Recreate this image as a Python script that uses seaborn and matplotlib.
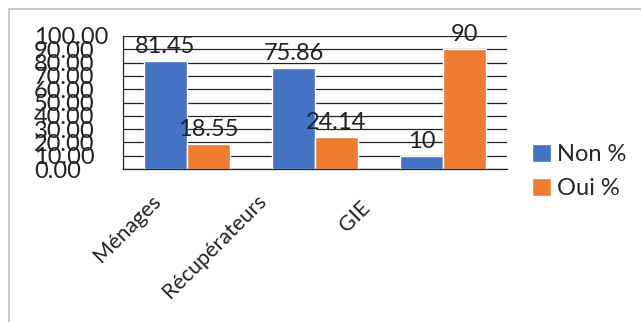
import pandas as pd
import matplotlib
matplotlib.use("Agg")
import matplotlib.pyplot as plt
import matplotlib.transforms as mtransforms
from matplotlib.patches import Patch
from matplotlib.lines import Line2D
import seaborn as sns

# données
categories = ["Ménages", "Récupérateurs", "GIE"]
non_pct = [81.45, 75.86, 10]
oui_pct = [18.55, 24.14, 90]
non_labels = ["81.45", "75.86", "10"]
oui_labels = ["18.55", "24.14", "90"]
series = ["Non %", "Oui %"]
y_ticks = [0, 10, 20, 30, 40, 50, 60, 70, 80, 90, 100]

df = pd.DataFrame({
    "Catégorie": categories * 2,
    "Série": [series[0]] * 3 + [series[1]] * 3,
    "Valeur": non_pct + oui_pct,
})

sns.set_style("white")
plt.rcParams["font.family"] = ["Lato", "DejaVu Sans"]
fs = 17
ink = "#222222"

fig = plt.figure(figsize=(6.41, 3.22), dpi=100)
ax = fig.add_axes([123 / 641, 1 - 169 / 322, 384 / 641, 133 / 322])

sns.barplot(data=df, x="Catégorie", y="Valeur", hue="Série",
            palette=["#4472C4", "#ED7D31"], width=0.67, gap=0,
            saturation=1, ax=ax, legend=False)

ax.set_ylim(0, 100)
ax.set_xlim(-0.5, 2.5)
ax.set_yticks(y_ticks)
ax.set_yticklabels([f"{v:.2f}" for v in y_ticks], fontsize=fs, color=ink, ha="left")
ax.tick_params(axis="y", direction="out", length=7.2, width=0.9, color=ink, pad=57)
ax.yaxis.grid(True, color=ink, linewidth=0.9)
ax.set_axisbelow(True)

# ticks aux limites de catégories, étiquettes au centre
ax.set_xticks([-0.5, 0.5, 1.5, 2.5])
ax.set_xticklabels([])
ax.set_xticks([0, 1, 2], minor=True)
ax.set_xticklabels(categories, minor=True, fontsize=15.5, color=ink,
                   rotation=45, ha="right", rotation_mode="anchor")
ax.tick_params(axis="x", which="major", direction="out", length=6.5, width=0.9, color=ink)
ax.tick_params(axis="x", which="minor", length=0, pad=17)
offsets = [(-36, 2), (-59, 2), (-83, -5)]
for lab, (dx, dy) in zip(ax.get_xticklabels(minor=True), offsets):
    lab.set_transform(lab.get_transform() +
                      mtransforms.ScaledTranslation(dx / 100, dy / 100, fig.dpi_scale_trans))

ax.set_xlabel("")
ax.set_ylabel("")
for side in ["top", "right"]:
    ax.spines[side].set_visible(False)
for side in ["left", "bottom"]:
    ax.spines[side].set_color(ink)
    ax.spines[side].set_linewidth(0.9)

for cont, labs in zip(ax.containers, [non_labels, oui_labels]):
    ax.bar_label(cont, labels=labs, fontsize=fs, color=ink, padding=3)

handles = [Patch(facecolor="#4472C4"), Patch(facecolor="#ED7D31")]
fig.legend(handles, series, loc="upper left", bbox_to_anchor=(532 / 641, 1 - 144 / 322),
           frameon=False, fontsize=fs, handlelength=0.8, handleheight=0.8,
           handletextpad=0.25, labelspacing=0.55, borderpad=0, borderaxespad=0)

# cadre gris du graphique
fig.add_artist(Line2D([9 / 641, 9 / 641], [0, 1 - 9 / 322], color="#BFBFBF", lw=1.2))
fig.add_artist(Line2D([9 / 641, 1], [1 - 9 / 322, 1 - 9 / 322], color="#BFBFBF", lw=1.2))

fig.savefig("out.png", dpi=100)
